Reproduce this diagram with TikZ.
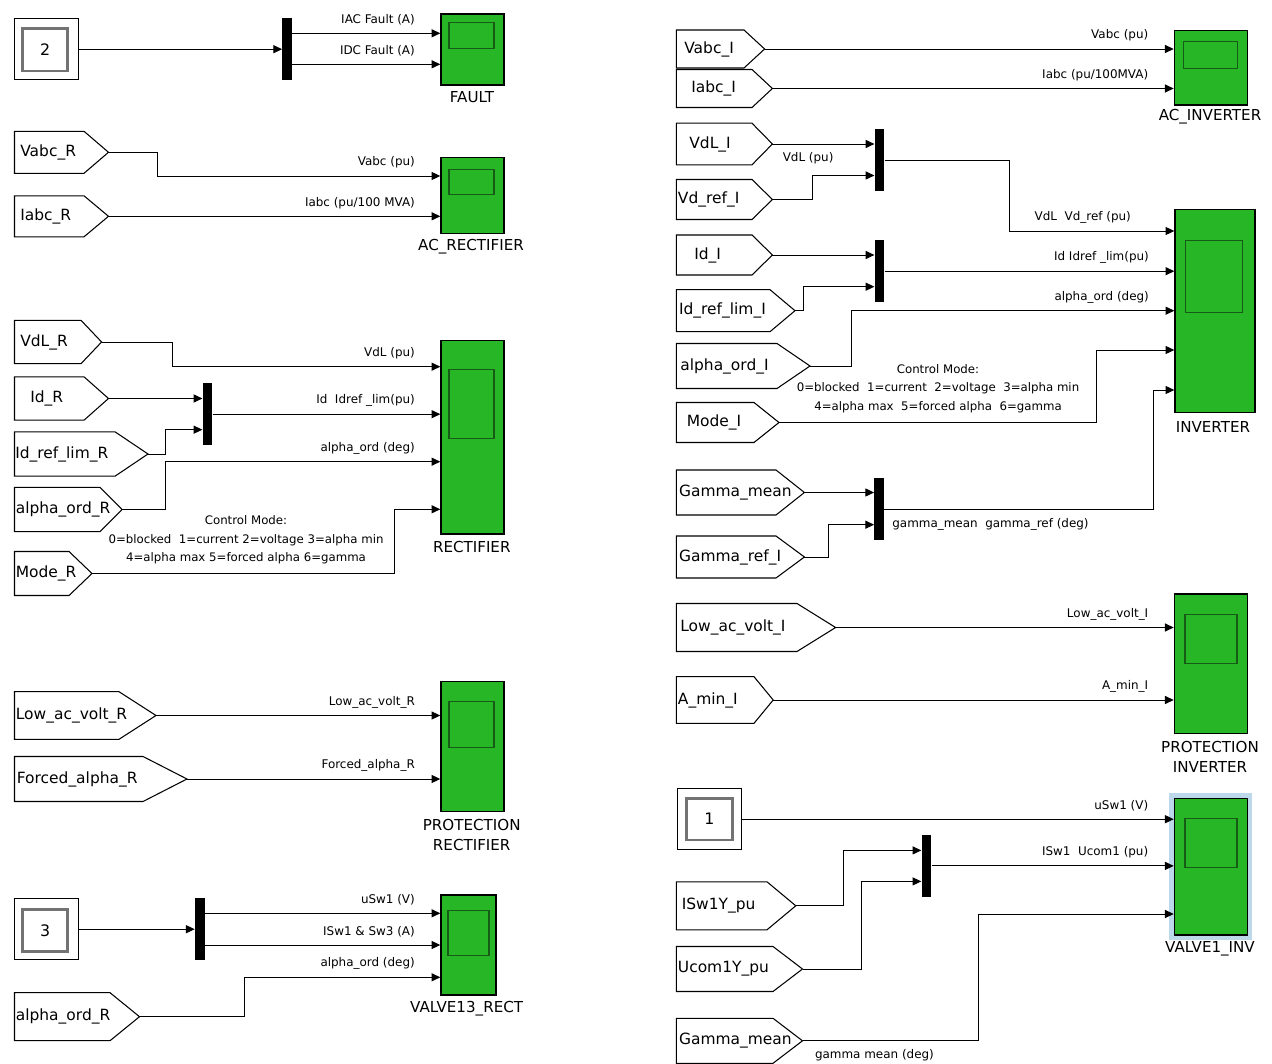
\documentclass[tikz,border=0pt]{standalone}
\usepackage{fontspec}
\setmainfont{DejaVu Sans}
\usepackage{tikz}
\usetikzlibrary{arrows.meta}

\definecolor{scopegreen}{RGB}{38,182,38}
\definecolor{scopedark}{RGB}{22,92,22}
\definecolor{selblue}{RGB}{188,216,234}

% goto/from tag: name, left, centre y, half height, body end, tip, text x, text
\newcommand{\sigtag}[8]{%
  \draw[tagline] (#2,#3-#4) -- (#5,#3-#4) -- (#6,#3) -- (#5,#3+#4) -- (#2,#3+#4) -- cycle;
  \node[taglbl] (#1-txt) at (#7,#3) {#8};
  \coordinate (#1) at (#6,#3);}

\begin{document}
\begin{tikzpicture}[x=0.02cm, y=-0.02cm,
  sig/.style={line width=0.55pt, -{Triangle[length=5pt,width=4.6pt]}},
  tagline/.style={line width=0.6pt, line join=miter},
  taglbl/.style={anchor=west, inner sep=0pt, font=\fontsize{8.8}{10}\selectfont},
  siglbl/.style={inner sep=0pt, font=\fontsize{6.8}{8}\selectfont},
  inlbl/.style={siglbl, anchor=east, xshift=-0.5cm, yshift=0.27cm},
  modelbl/.style={inner sep=0pt, align=center, font=\fontsize{6.7}{10.4}\selectfont},
  scopebox/.style={draw, line width=0.8pt, fill=scopegreen, inner sep=0pt},
  scopescr/.style={draw=scopedark, line width=0.6pt, inner sep=0pt},
  blkname/.style={inner sep=0pt, align=center, font=\fontsize{8.6}{11.3}\selectfont},
  muxbar/.style={fill=black, inner sep=0pt, minimum width=0.19cm, minimum height=1.23cm},
  constbox/.style={draw, line width=0.6pt, inner sep=0pt, minimum width=1.28cm, minimum height=1.23cm},
  constin/.style={draw=black!55, line width=1.6pt, inner sep=0pt, minimum width=0.91cm, minimum height=0.85cm, font=\fontsize{9}{10}\selectfont}]
\useasboundingbox (0,0) rectangle (1272,1064);
\fill[white] (0,0) rectangle (1272,1064);

% scopes
\node[fill=selblue, minimum width=1.66cm, minimum height=2.93cm] (valve1sel) at (1210.9,866.7) {};
\node[scopebox, minimum width=1.26cm, minimum height=1.42cm] (fault) at (472.5,49.5) {};
\node[scopebox, minimum width=1.26cm, minimum height=1.51cm] (acrect) at (472.5,195.5) {};
\node[scopebox, minimum width=1.26cm, minimum height=3.87cm] (rect) at (472.5,437.3) {};
\node[scopebox, minimum width=1.26cm, minimum height=2.60cm] (protR) at (472.5,746.7) {};
\node[scopebox, minimum width=1.10cm, minimum height=2.00cm] (valve13) at (468.5,945) {};
\node[scopebox, minimum width=1.46cm, minimum height=1.49cm] (acinv) at (1210.9,67.8) {};
\node[scopebox, minimum width=1.60cm, minimum height=4.07cm] (inv) at (1215,311) {};
\node[scopebox, minimum width=1.46cm, minimum height=2.79cm] (protI) at (1210.9,663.7) {};
\node[scopebox, minimum width=1.46cm, minimum height=2.73cm] (valve1) at (1210.9,866.7) {};

\node[scopescr, minimum width=0.90cm, minimum height=0.51cm] (fault-scr) at (471.5,35.5) {};
\node[scopescr, minimum width=0.90cm, minimum height=0.51cm] (acrect-scr) at (471.5,182.2) {};
\node[scopescr, minimum width=0.90cm, minimum height=1.37cm] (rect-scr) at (471.5,404.2) {};
\node[scopescr, minimum width=0.90cm, minimum height=0.91cm] (protR-scr) at (471.5,724.5) {};
\node[scopescr, minimum width=0.82cm, minimum height=0.89cm] (valve13-scr) at (468.5,932.8) {};
\node[scopescr, minimum width=1.09cm, minimum height=0.53cm] (acinv-scr) at (1210.3,55) {};
\node[scopescr, minimum width=1.15cm, minimum height=1.44cm] (inv-scr) at (1213.8,276.7) {};
\node[scopescr, minimum width=1.04cm, minimum height=0.97cm] (protI-scr) at (1211,639.2) {};
\node[scopescr, minimum width=1.04cm, minimum height=0.98cm] (valve1-scr) at (1211,842.8) {};

\node[blkname] (fault-name) at (472,96.7) {FAULT};
\node[blkname] (acrect-name) at (471,246.7) {AC\_RECTIFIER};
\node[blkname] (rect-name) at (471.8,547.3) {RECTIFIER};
\node[blkname] (protR-name) at (471.7,835) {PROTECTION\\RECTIFIER};
\node[blkname] (valve13-name) at (466.6,1008.3) {VALVE13\_RECT};
\node[blkname] (acinv-name) at (1210,117) {AC\_INVERTER};
\node[blkname] (inv-name) at (1213,427) {INVERTER};
\node[blkname] (protI-name) at (1210,756.7) {PROTECTION\\INVERTER};
\node[blkname] (valve1-name) at (1210,949) {VALVE1\_INV};

\foreach \s/\k/\yy in {fault/1/33.3, fault/2/64.3, acrect/1/176, rect/1/366.7, rect/3/461.7,
    rect/4/509.3, valve13/1/913.3, valve13/2/945, valve13/3/977.3, inv/1/231, inv/3/310.7,
    inv/4/350, inv/5/390, valve1/3/914}
  \coordinate (\s-\k) at (\s.west |- 0,\yy);

% muxes
\node[muxbar] (muxF) at (287.2,49.2) {};
\node[muxbar] (muxR) at (207.5,414.2) {};
\node[muxbar] (mux13) at (199.8,929.2) {};
\node[muxbar] (mux1) at (879.5,160) {};
\node[muxbar] (mux2) at (879.5,271.2) {};
\node[muxbar] (mux3) at (879.2,509.2) {};
\node[muxbar] (mux4) at (926.4,865.9) {};

% constants
\node[constbox] (const2) at (46.5,49.2) {};
\node[constin] (const2-in) at (45.1,49.7) {2};
\node[constbox] (const3) at (46.5,929.2) {};
\node[constin] (const3-in) at (45.1,930.5) {3};
\node[constbox] (const1) at (709.4,819.2) {};
\node[constin, minimum height=0.83cm] (const1-in) at (709.4,819.2) {1};

% tags, rectifier side
\sigtag{vabcR}{14.5}{152.3}{21}{84}{108.5}{20}{Vabc\_R}
\sigtag{iabcR}{14.5}{216.3}{20.5}{84}{108.5}{20}{Iabc\_R}
\sigtag{vdlR}{14.5}{342}{21.7}{81}{101.6}{20}{VdL\_R}
\sigtag{idR}{14.5}{398.5}{21.7}{84}{108.5}{30}{Id\_R}
\sigtag{idreflimR}{14.5}{454}{22.2}{115}{148}{15}{Id\_ref\_lim\_R}
\sigtag{alphaordR}{14.5}{509.5}{22.2}{100}{122}{15.5}{alpha\_ord\_R}
\sigtag{modeR}{14.5}{573.5}{22}{69}{92}{15.5}{Mode\_R}
\sigtag{lowacR}{14.5}{715.5}{23.8}{119}{156}{15.5}{Low\_ac\_volt\_R}
\sigtag{forcedR}{14.5}{779}{22.5}{143}{187}{16.5}{Forced\_alpha\_R}
\sigtag{alphaordRb}{14.5}{1016.7}{24}{110}{139.5}{15.5}{alpha\_ord\_R}

% tags, inverter side
\sigtag{vabcI}{676.4}{49}{19}{744}{764.6}{684}{Vabc\_I}
\sigtag{iabcI}{676.4}{88.5}{19}{752}{772.4}{691}{Iabc\_I}
\sigtag{vdlI}{676.4}{144}{20.8}{752}{772.4}{689}{VdL\_I}
\sigtag{vdrefI}{676.4}{199.5}{20}{752}{772.4}{677.6}{Vd\_ref\_I}
\sigtag{idI}{676.4}{255}{20}{752}{772.4}{694}{Id\_I}
\sigtag{idreflimI}{676.4}{310.7}{21}{770}{795}{678.7}{Id\_ref\_lim\_I}
\sigtag{alphaordI}{676.4}{366}{22.5}{777}{810}{680}{alpha\_ord\_I}
\sigtag{modeI}{676.4}{422.5}{20}{754}{779}{686.5}{Mode\_I}
\sigtag{gammameanI}{676.4}{492.5}{22.5}{776}{804.4}{678.7}{Gamma\_mean}
\sigtag{gammarefI}{676.4}{557}{21}{776}{804.4}{678.7}{Gamma\_ref\_I}
\sigtag{lowacI}{676.4}{627.5}{24}{797}{835.6}{680}{Low\_ac\_volt\_I}
\sigtag{aminI}{676.4}{700}{23.3}{754}{773.2}{677.6}{A\_min\_I}
\sigtag{isw1Y}{676.4}{905.8}{24}{767}{795.8}{681.5}{ISw1Y\_pu}
\sigtag{ucom1Y}{676.4}{969}{22.5}{773}{802.5}{677.6}{Ucom1Y\_pu}
\sigtag{gammameanIb}{676.4}{1040.8}{22.5}{773}{802.5}{678.7}{Gamma\_mean}

% FAULT
\draw[sig] (const2) -- (muxF.west |- const2);
\draw[sig] (muxF.east |- fault-1) -- (fault-1) node[inlbl] (fault-l1) {IAC Fault (A)};
\draw[sig] (muxF.east |- fault-2) -- (fault-2) node[inlbl] (fault-l2) {IDC Fault (A)};

% AC_RECTIFIER
\draw[sig] (vabcR) -- ++(48.5,0) |- (acrect-1) node[inlbl] (acrect-l1) {Vabc (pu)};
\draw[sig] (iabcR) -- (acrect.west |- iabcR) node[inlbl] (acrect-l2) {Iabc (pu/100 MVA)};

% RECTIFIER
\draw[sig] (vdlR) -- ++(70.4,0) |- (rect-1) node[inlbl] (rect-l1) {VdL (pu)};
\draw[sig] (idR) -- (muxR.west |- idR);
\draw[sig] (idreflimR) -- ++(17,0) |- ([yshift=-0.31cm]muxR.west);
\draw[sig] (muxR.east) -- (rect.west |- muxR.east) node[inlbl] (rect-l2) {Id\ \ Idref \_lim(pu)};
\draw[sig] (alphaordR) -- ++(43,0) |- (rect-3) node[inlbl] (rect-l3) {alpha\_ord (deg)};
\draw[sig] (modeR) -- ++(302,0) |- (rect-4);
\node[modelbl] (modeR-note) at (246,540) {Control Mode:\\0=blocked\ \ 1=current 2=voltage 3=alpha min\\4=alpha max 5=forced alpha 6=gamma};

% PROTECTION RECTIFIER
\draw[sig] (lowacR) -- (protR.west |- lowacR) node[inlbl] (protR-l1) {Low\_ac\_volt\_R};
\draw[sig] (forcedR) -- (protR.west |- forcedR) node[inlbl] (protR-l2) {Forced\_alpha\_R};

% VALVE13_RECT
\draw[sig] (const3) -- (mux13.west |- const3);
\draw[sig] (mux13.east |- valve13-1) -- (valve13-1) node[inlbl] (valve13-l1) {uSw1 (V)};
\draw[sig] (mux13.east |- valve13-2) -- (valve13-2) node[inlbl] (valve13-l2) {ISw1 \& Sw3 (A)};
\draw[sig] (alphaordRb) -- ++(105,0) |- (valve13-3) node[inlbl] (valve13-l3) {alpha\_ord (deg)};

% AC_INVERTER
\draw[sig] (vabcI) -- (acinv.west |- vabcI) node[inlbl] (acinv-l1) {Vabc (pu)};
\draw[sig] (iabcI) -- (acinv.west |- iabcI) node[inlbl] (acinv-l2) {Iabc (pu/100MVA)};

% INVERTER
\draw[sig] (vdlI) -- node[siglbl, pos=0.35, yshift=-0.28cm] (vdlI-l) {VdL (pu)} (mux1.west |- vdlI);
\draw[sig] (vdrefI) -- ++(39.6,0) |- ([yshift=-0.31cm]mux1.west);
\draw[sig] (mux1.east) -- ++(125,0) |- (inv-1) node[inlbl, xshift=-0.36cm] (inv-l1) {VdL\ \ Vd\_ref (pu)};
\draw[sig] (idI) -- (mux2.west |- idI);
\draw[sig] (idreflimI) -- ++(8,0) |- ([yshift=-0.31cm]mux2.west);
\draw[sig] (mux2.east) -- (inv.west |- mux2.east) node[inlbl] (inv-l2) {Id Idref \_lim(pu)};
\draw[sig] (alphaordI) -- ++(41.7,0) |- (inv-3) node[inlbl] (inv-l3) {alpha\_ord (deg)};
\draw[sig] (modeI) -- ++(317.7,0) |- (inv-4);
\node[modelbl] (modeI-note) at (938,388.5) {Control Mode:\\0=blocked\ \ 1=current\ \ 2=voltage\ \ 3=alpha min\\4=alpha max\ \ 5=forced alpha\ \ 6=gamma};
\draw[sig] (gammameanI) -- (mux3.west |- gammameanI);
\draw[sig] (gammarefI) -- ++(24.2,0) |- ([yshift=-0.31cm]mux3.west);
\draw[sig] (mux3.east) -- ++(269,0) |- (inv-5);
\node[siglbl, anchor=west] (mux3-l) at (892,524) {gamma\_mean\ \ gamma\_ref (deg)};

% PROTECTION INVERTER
\draw[sig] (lowacI) -- (protI.west |- lowacI) node[inlbl] (protI-l1) {Low\_ac\_volt\_I};
\draw[sig] (aminI) -- (protI.west |- aminI) node[inlbl] (protI-l2) {A\_min\_I};

% VALVE1_INV
\draw[sig] (const1) -- (valve1.west |- const1) node[inlbl] (valve1-l1) {uSw1 (V)};
\draw[sig] (isw1Y) -- ++(47.6,0) |- ([yshift=0.31cm]mux4.west);
\draw[sig] (ucom1Y) -- ++(58.5,0) |- ([yshift=-0.31cm]mux4.west);
\draw[sig] (mux4.east) -- (valve1.west |- mux4.east) node[inlbl] (valve1-l2) {ISw1\ \ Ucom1 (pu)};
\draw[sig] (gammameanIb) -- node[siglbl, pos=0.41, yshift=-0.28cm] (gammameanIb-l) {gamma mean (deg)} ++(175.5,0) |- (valve1-3);
\end{tikzpicture}
\end{document}
